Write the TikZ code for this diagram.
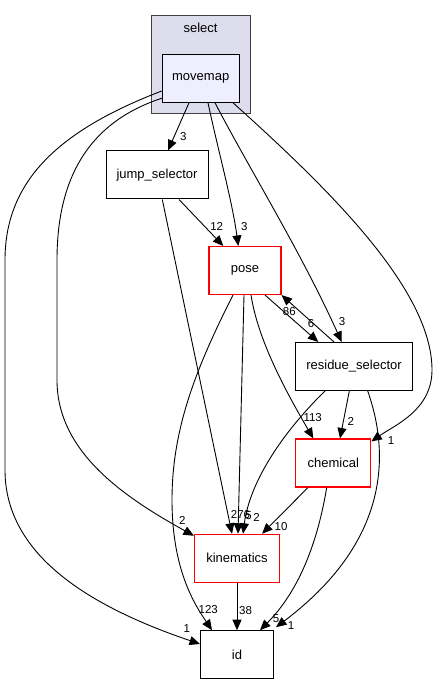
\documentclass[tikz,border=0pt]{standalone}
\usepackage{fontspec}
\setmainfont{Liberation Sans}
\usetikzlibrary{arrows.meta}
\definecolor{grpfill}{HTML}{DDDDEE}
\definecolor{grpline}{HTML}{404040}
\definecolor{inner}{HTML}{EEEEFF}
\definecolor{redline}{HTML}{FF0000}
\tikzset{
  grp/.style={draw=grpline, fill=grpfill, line width=1pt},
  grptitle/.style={font=\fontsize{13}{15}\selectfont, inner sep=0pt},
  dirbox/.style={draw=black, fill=white, line width=1pt, inner sep=0pt,
    minimum height=48pt, font=\fontsize{13}{15}\selectfont},
  extbox/.style={draw=redline, fill=white, line width=1.1pt, inner sep=0pt,
    minimum height=48pt, font=\fontsize{13}{15}\selectfont},
  edge/.style={draw=black, line width=0.9pt, -{Triangle[length=10.5pt,width=9pt]}},
  num/.style={font=\fontsize{11.5}{13}\selectfont, inner sep=0pt},
}
\begin{document}
\begin{tikzpicture}[x=1pt,y=-1pt]
  \useasboundingbox (0,0) rectangle (437,684);
  % cluster
  \draw[grp] (151.5,15.7) rectangle (250.5,113.3);
  \node[grptitle] (selt) at (200.5,28.3) {select};
  % directories
  \node[dirbox, fill=inner, minimum width=77pt] (movemap) at (200.7,78.3) {movemap};
  \node[dirbox, minimum width=102pt] (jump) at (157,175) {jump\_selector};
  \node[extbox, minimum width=72pt] (pose) at (245,270.5) {pose};
  \node[dirbox, minimum width=117pt] (resi) at (354,366.5) {residue\_selector};
  \node[extbox, minimum width=75pt] (chem) at (333.3,463) {chemical};
  \node[extbox, minimum width=85pt] (kine) at (237,558.3) {kinematics};
  \node[dirbox, minimum width=73pt] (id) at (237,654.7) {id};
  % dependencies
  \draw[edge] ([xshift=-11.7pt]movemap.south) -- ([xshift=11pt]jump.north);
  \draw[edge] ([xshift=7.3pt]movemap.south) .. controls (218,150) and (232,200) .. ([xshift=-6.7pt]pose.north);
  \draw[edge] ([xshift=14.3pt]movemap.south) .. controls (250,170) and (300,250) .. ([xshift=-12.3pt]resi.north);
  \draw[edge] ([xshift=32.3pt]movemap.south) .. controls (330,190) and (432,290) .. (432,370)
    .. controls (432,410) and (395,425) .. ([yshift=-3pt]chem.north east);
  \draw[edge] ([yshift=-20pt]movemap.west) .. controls (80,125) and (57,190) .. (57,260) -- (57,380)
    .. controls (57,450) and (120,495) .. ([yshift=-2pt]kine.north west);
  \draw[edge] ([yshift=-12.7pt]movemap.west) .. controls (60,130) and (5,180) .. (5,260) -- (5,470)
    .. controls (5,560) and (100,610) .. ([yshift=10.7pt]id.west);
  \draw[edge] ([xshift=22pt]jump.south) -- ([xshift=-21.7pt]pose.north);
  \draw[edge] ([xshift=5.3pt]jump.south) -- ([xshift=-5pt]kine.north);
  \draw[edge] ([xshift=-1pt]pose.south) -- ([xshift=1pt]kine.north);
  \draw[edge] ([xshift=-12pt]pose.south) .. controls (195,370) and (172,430) .. (172,500)
    .. controls (172,570) and (195,605) .. ([xshift=-25pt]id.north);
  \draw[edge] ([xshift=20pt]pose.south) -- ([xshift=-35.7pt]resi.north);
  \draw[edge] ([xshift=-20pt]resi.north) -- (pose.south east);
  \draw[edge] ([xshift=6pt]pose.south) .. controls (258,340) and (285,390) .. ([xshift=-20pt]chem.north);
  \draw[edge] ([xshift=-4.7pt]resi.south) -- ([xshift=6.7pt]chem.north);
  \draw[edge] ([xshift=-29pt]resi.south) .. controls (285,430) and (250,480) .. ([xshift=6pt]kine.north);
  \draw[edge] ([xshift=13.7pt]resi.south) .. controls (392,460) and (385,545) .. ([xshift=2pt,yshift=3pt]id.north east);
  \draw[edge] ([xshift=-25.3pt]chem.south) -- ([xshift=-18pt]kine.north east);
  \draw[edge] ([xshift=-6.6pt]chem.south) .. controls (318,540) and (300,590) .. ([xshift=23pt]id.north);
  \draw[edge] (kine.south) -- (id.north);
  % counts
  \node[num] (n1) at (183.3,136.7) {3};
  \node[num] (n2) at (244.3,226.7) {3};
  \node[num] (n3) at (342,321.7) {3};
  \node[num] (n4) at (391,441) {1};
  \node[num] (n5) at (182.3,520) {2};
  \node[num] (n6) at (186.7,628.3) {1};
  \node[num] (n7) at (216.7,226) {12};
  \node[num] (n8) at (248.5,516) {5};
  \node[num] (n9) at (240.5,515) {276};
  \node[num] (n10) at (208.3,610) {123};
  \node[num] (n11) at (311,324) {6};
  \node[num] (n12) at (289.3,311.3) {86};
  \node[num] (n13) at (312.7,417.7) {113};
  \node[num] (n14) at (350.7,421.7) {2};
  \node[num] (n15) at (256.5,517) {2};
  \node[num] (n16) at (291,625.7) {1};
  \node[num] (n17) at (281,526.7) {10};
  \node[num] (n18) at (276,618.3) {5};
  \node[num] (n19) at (245.5,611) {38};
\end{tikzpicture}
\end{document}
